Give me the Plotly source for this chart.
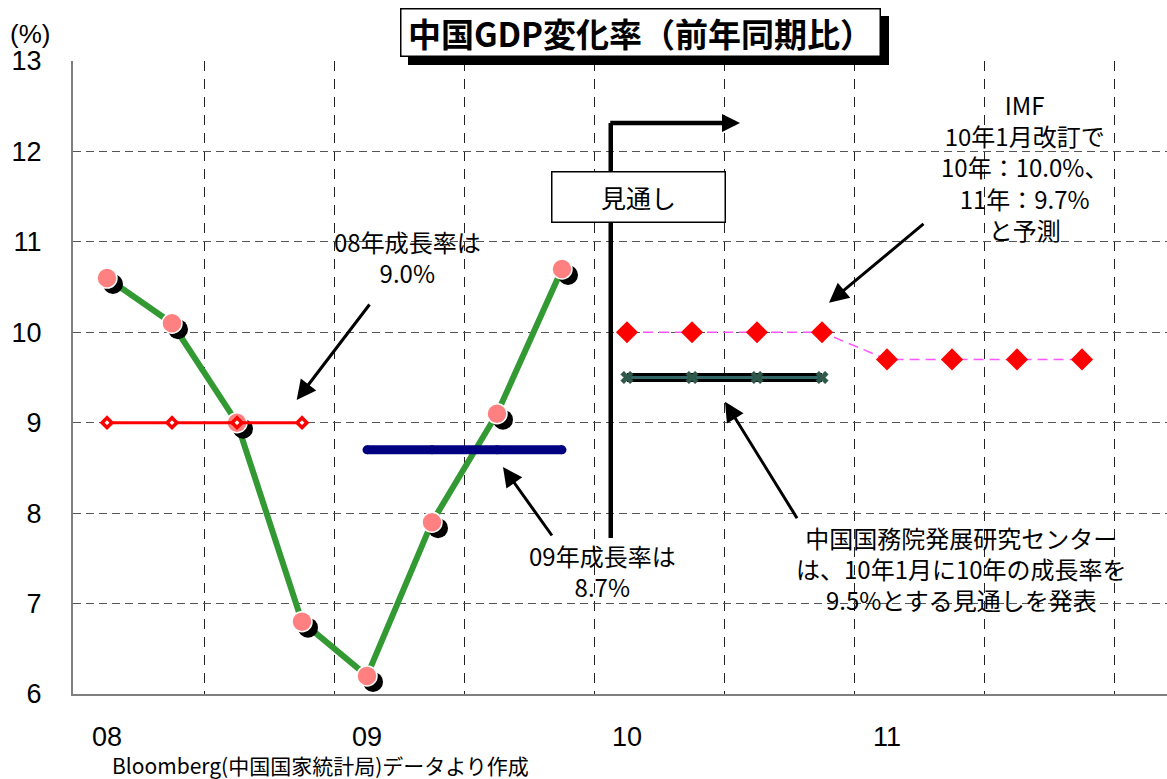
import plotly.graph_objects as go

# ---- data -------------------------------------------------------------
# x positions are quarter indices: 0 = 2008 Q1 ... 15 = 2011 Q4
year_tick_pos = [0, 4, 8, 12]
year_tick_text = ["08", "09", "10", "11"]
half_year_grid = [1.5, 3.5, 5.5, 7.5, 9.5, 11.5, 13.5, 15.5]

gdp_x = [0, 1, 2, 3, 4, 5, 6, 7]
gdp_y = [10.6, 10.1, 9.0, 6.8, 6.2, 7.9, 9.1, 10.7]

avg08_x = [0, 1, 2, 3]
avg08_y = [9.0, 9.0, 9.0, 9.0]

avg09_x = [4, 5, 6, 7]
avg09_y = [8.7, 8.7, 8.7, 8.7]

imf_x = [8, 9, 10, 11, 12, 13, 14, 15]
imf_y = [10.0, 10.0, 10.0, 10.0, 9.7, 9.7, 9.7, 9.7]

drc_x = [8, 9, 10, 11]
drc_y = [9.5, 9.5, 9.5, 9.5]

# ---- geometry helpers ---------------------------------------------------
W, H = 1167, 779
L, R, T, B = 73, 0, 61, 85
PX_PER_Q = 65.0
X0_PX = 107.0
X_RANGE = [(L - X0_PX) / PX_PER_Q, (W - R - X0_PX) / PX_PER_Q]
Y_RANGE = [6, 13]
PX_PER_Y = (H - T - B) / (Y_RANGE[1] - Y_RANGE[0])


def xd(px):
    return (px - X0_PX) / PX_PER_Q


def yd(py):
    return Y_RANGE[1] - (py - T) / PX_PER_Y


def xp(px):
    return (px - L) / (W - L - R)


def yp(py):
    return (H - B - py) / (H - T - B)


# marker drop-shadow offset (in data units)
SH_DX = 6 / PX_PER_Q
SH_DY = -6 / PX_PER_Y

JP = "Noto Sans CJK JP"
NUM = "Liberation Sans Narrow, Liberation Sans, Arial"

fig = go.Figure()

# quarterly GDP growth
fig.add_trace(go.Scatter(x=gdp_x, y=gdp_y, mode="lines",
                         line=dict(color="#339933", width=6),
                         hoverinfo="skip", showlegend=False))
fig.add_trace(go.Scatter(x=[v + SH_DX for v in gdp_x], y=[v + SH_DY for v in gdp_y],
                         mode="markers",
                         marker=dict(symbol="circle", size=20, color="black"),
                         hoverinfo="skip", showlegend=False))
fig.add_trace(go.Scatter(x=gdp_x, y=gdp_y, mode="markers",
                         marker=dict(symbol="circle", size=20, color="#FF8080",
                                     line=dict(color="white", width=1.5)),
                         showlegend=False))

# 2008 annual rate
fig.add_trace(go.Scatter(x=avg08_x, y=avg08_y, mode="lines+markers",
                         line=dict(color="#FF0000", width=3),
                         marker=dict(symbol="diamond", size=7.5, color="white",
                                     line=dict(color="#FF0000", width=3.5)),
                         showlegend=False))

# 2009 annual rate
fig.add_trace(go.Scatter(x=avg09_x, y=avg09_y, mode="lines+markers",
                         line=dict(color="#000080", width=9),
                         marker=dict(symbol="circle", size=9, color="#000080"),
                         showlegend=False))

# IMF forecast
fig.add_trace(go.Scatter(x=imf_x, y=imf_y, mode="lines+markers",
                         line=dict(color="#FF55FF", width=1.5, dash="10px,6px"),
                         marker=dict(symbol="diamond", size=17, color="#FF0000"),
                         showlegend=False))

# Development Research Center forecast (double line)
fig.add_trace(go.Scatter(x=drc_x, y=drc_y, mode="lines",
                         line=dict(color="black", width=9),
                         hoverinfo="skip", showlegend=False))
fig.add_trace(go.Scatter(x=drc_x, y=drc_y, mode="lines+markers",
                         line=dict(color="#336666", width=3),
                         marker=dict(symbol="x", size=11, color="#2E5A4C",
                                     line=dict(color="#1E3E34", width=0.5)),
                         showlegend=False))

# forecast boundary line with arrow
SEP_X = 7.75
SEP_TOP = yd(123)
SEP_BOT = yd(538)
fig.add_shape(type="line", xref="x", yref="y", x0=SEP_X, x1=SEP_X,
              y0=SEP_BOT, y1=SEP_TOP, line=dict(color="black", width=4.5))

annotations = []
annotations.append(dict(x=xd(740), y=SEP_TOP, xref="x", yref="y", text="",
                        showarrow=True, ax=-(xd(740) - SEP_X) * PX_PER_Q - 2, ay=0,
                        arrowhead=2, arrowsize=0.8, arrowwidth=4.5,
                        arrowcolor="black"))
annotations.append(dict(x=xd(638.5), y=yd(197), xref="x", yref="y",
                        text="見通し", showarrow=False,
                        font=dict(family=JP, size=25, color="black"),
                        bgcolor="white", bordercolor="black", borderwidth=1.5,
                        borderpad=0, width=172, height=49))

# pointer arrows
for tip_px, tip_py, ax, ay in [(296.7, 400, 74, -97),
                               (503, 467, 50, 70),
                               (829, 302.7, 96, -80),
                               (725, 401.7, 73, 118)]:
    annotations.append(dict(x=xd(tip_px), y=yd(tip_py), xref="x", yref="y",
                            text="", showarrow=True, ax=ax, ay=ay,
                            arrowhead=2, arrowsize=1.3, arrowwidth=3,
                            arrowcolor="black"))

# callout texts
callouts = [
    (407, 257, "08年成長率は<br>9.0%"),
    (602, 571, "09年成長率は<br>8.7%"),
    (1024, 167, "IMF<br>10年1月改訂で<br>10年：10.0%、<br>11年：9.7%<br>と予測"),
    (961, 568, "中国国務院発展研究センター<br>は、10年1月に10年の成長率を<br>9.5%とする見通しを発表"),
]
for cx, cy, txt in callouts:
    annotations.append(dict(x=xp(cx), y=yp(cy), xref="paper", yref="paper",
                            text=txt, showarrow=False, align="center",
                            xanchor="center", yanchor="middle",
                            font=dict(family=JP, size=24, color="black")))

# title box with drop shadow
annotations.append(dict(x=xp(648.5), y=yp(40.5), xref="paper", yref="paper",
                        text=" ", showarrow=False, bgcolor="black",
                        borderpad=0, borderwidth=0, width=481, height=49,
                        xanchor="center", yanchor="middle"))
annotations.append(dict(x=xp(640.5), y=yp(32.5), xref="paper", yref="paper",
                        text="<b>中国GDP変化率（前年同期比）</b>", showarrow=False,
                        bgcolor="white", bordercolor="black", borderwidth=1.5,
                        borderpad=0, width=478, height=46,
                        xanchor="center", yanchor="middle",
                        font=dict(family=JP, size=33, color="black")))

# unit label and source note
annotations.append(dict(x=xp(30), y=yp(34), xref="paper", yref="paper",
                        text="(%)", showarrow=False, xanchor="center", yanchor="middle",
                        font=dict(family=NUM, size=26, color="black")))
annotations.append(dict(x=xp(110), y=yp(765), xref="paper", yref="paper",
                        text="Bloomberg(中国国家統計局)データより作成", showarrow=False,
                        xanchor="left", yanchor="middle",
                        font=dict(family=JP, size=21, color="black")))

fig.update_layout(
    width=W, height=H,
    margin=dict(l=L, r=R, t=T, b=B, pad=0),
    paper_bgcolor="white", plot_bgcolor="white",
    showlegend=False,
    annotations=annotations,
    xaxis=dict(range=X_RANGE, tickmode="array", tickvals=year_tick_pos,
               ticktext=year_tick_text, showgrid=False, zeroline=False,
               showline=True, linecolor="#7F7F7F", linewidth=2, ticks="",
               ticklabelstandoff=18,
               tickfont=dict(family=NUM, size=27, color="black"),
               minor=dict(tickmode="array", tickvals=half_year_grid, showgrid=True,
                          gridcolor="#222222", gridwidth=1, griddash="10px,8px",
                          ticks="")),
    yaxis=dict(range=Y_RANGE, tickmode="linear", tick0=6, dtick=1,
               showgrid=True, gridcolor="#555555", gridwidth=1, griddash="8px,5px",
               zeroline=False, showline=True, linecolor="#7F7F7F", linewidth=2,
               ticks="", ticklabelstandoff=24,
               tickfont=dict(family=NUM, size=27, color="black")),
)

fig.write_html("out.html")
